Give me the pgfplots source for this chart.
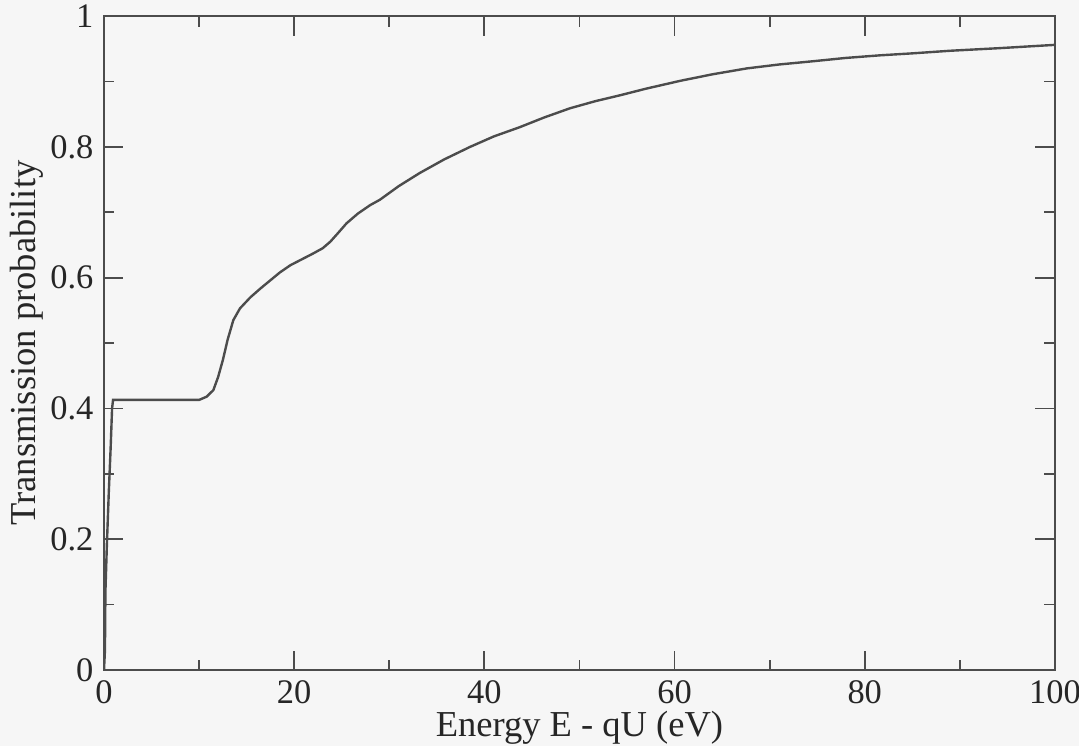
\documentclass[border=0pt]{standalone}
\usepackage{pgfplots}
\pgfplotsset{compat=1.18}
\usepackage{fontspec}
\setmainfont{Liberation Serif}
\definecolor{ink}{gray}{0.30}
\definecolor{paper}{gray}{0.965}

\begin{document}
\begin{tikzpicture}[x=0.334pt,y=0.334pt]
\fill[paper] (-104,-76) rectangle (975,670);
\begin{axis}[
  at={(0,0)}, anchor=origin,
  scale only axis,
  width=317.6pt, height=218.4pt,
  xmin=0, xmax=100, ymin=0, ymax=1,
  xtick={0,20,...,100}, minor xtick={10,30,...,90},
  ytick={0,0.2,...,1}, minor ytick={0.1,0.3,...,0.9},
  yticklabels={0,0.2,0.4,0.6,0.8,1},
  tick align=inside,
  major tick length=6.5pt, minor tick length=3.5pt,
  axis line style={ink, line width=0.7pt},
  every tick/.style={ink, line width=0.6pt},
  ticklabel style={font=\fontsize{11.5}{13}\selectfont, text=black!85},
  /pgf/number format/assume math mode=true,
  label style={font=\fontsize{12.2}{14}\selectfont, text=black!85},
  xlabel={Energy E - qU (eV)},
  ylabel={Transmission probability},
  xlabel style={inner sep=1pt},
  xlabel shift=-2.2pt,
  ylabel shift=-4.5pt,
]
\addplot[ink, line width=0.8pt] coordinates {
  (0,0) (0.1,0.03) (0.15,0.12) (0.3,0.19) (0.5,0.27) (0.7,0.34)
  (0.85,0.40) (0.95,0.413) (2,0.413) (5,0.413) (8,0.413) (10,0.413)
  (10.8,0.418) (11.5,0.428) (12.0,0.448) (12.5,0.474) (13.0,0.505)
  (13.6,0.535) (14.3,0.553) (15.4,0.570) (16.5,0.584) (17.5,0.596)
  (18.5,0.608) (19.6,0.619) (20.8,0.628) (22.0,0.637) (23.0,0.645)
  (23.8,0.655) (24.6,0.668) (25.5,0.683) (26.7,0.698) (28.0,0.711)
  (29.0,0.719) (31.0,0.740) (33.2,0.760) (35.8,0.781) (38.5,0.800)
  (41.0,0.816) (43.7,0.830) (46.3,0.845) (49.0,0.859) (51.7,0.870)
  (54.3,0.879) (57.0,0.889) (60.6,0.901) (64.0,0.911) (67.6,0.920)
  (71.0,0.926) (74.6,0.931) (78.0,0.936) (81.6,0.940) (85.0,0.943)
  (89.0,0.947) (94.2,0.951) (100,0.956)
};
\end{axis}
\pgfresetboundingbox
\path[use as bounding box] (-104,-76) rectangle (975,670);
\end{tikzpicture}
\end{document}
